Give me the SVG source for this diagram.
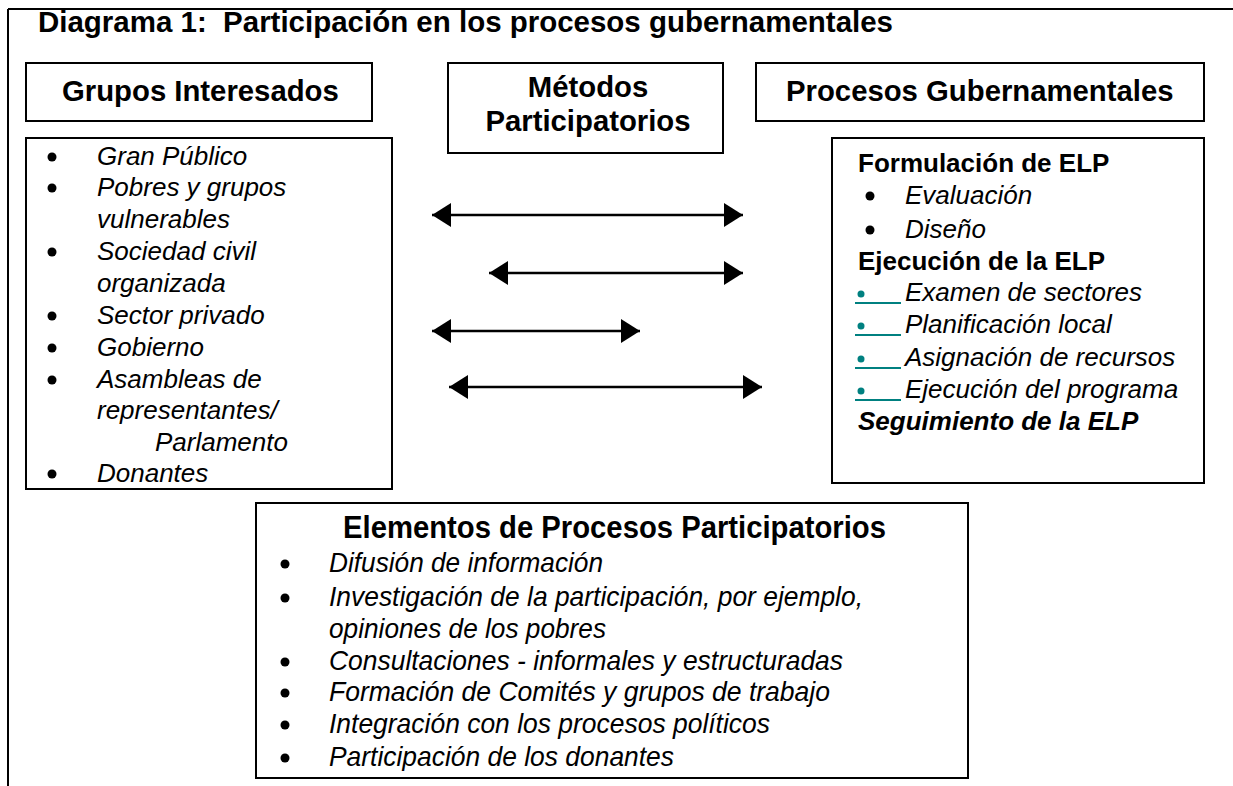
<svg xmlns="http://www.w3.org/2000/svg" width="1233" height="786" viewBox="0 0 1233 786">
<style>
.box{fill:#fff;stroke:#000;stroke-width:2}
.h{font-family:"Liberation Sans",Arial,sans-serif;font-weight:bold;font-size:29.3px;fill:#000}
.it{font-family:"Liberation Sans",Arial,sans-serif;font-style:italic;font-size:26px;fill:#000}
.b{font-family:"Liberation Sans",Arial,sans-serif;font-weight:bold;font-size:26px;fill:#000}
.bi{font-family:"Liberation Sans",Arial,sans-serif;font-weight:bold;font-style:italic;font-size:26px;fill:#000}
.nb{font-family:"Liberation Sans",Arial,sans-serif;font-weight:bold;font-size:32px;fill:#000}
.ni{font-family:"Liberation Sans",Arial,sans-serif;font-style:italic;font-size:28px;fill:#000}
.dot{fill:#000}
.tdot{fill:#008080}
.tline{stroke:#008080;stroke-width:2}
.conn{stroke:#000;stroke-width:2.5;fill:none;marker-start:url(#ah);marker-end:url(#ah)}
</style>
<defs>
<marker id="ah" markerUnits="userSpaceOnUse" markerWidth="20" markerHeight="24" refX="19" refY="12" orient="auto-start-reverse">
<path d="M0,0 L19,12 L0,24 Z" fill="#000"/>
</marker>
<clipPath id="elclip"><rect x="256" y="503" width="712" height="268"/></clipPath>
</defs>
<g id="frame">
<line x1="8" y1="9" x2="1233" y2="9" stroke="#000" stroke-width="2"/>
<line x1="8" y1="9" x2="8" y2="786" stroke="#000" stroke-width="2"/>
<text class="h" x="38" y="32" xml:space="preserve" textLength="855" lengthAdjust="spacingAndGlyphs">Diagrama 1:  Participación en los procesos gubernamentales</text>
</g>
<g id="grupos-header">
<rect class="box" x="26" y="63" width="346" height="58"/>
<text class="h" x="62" y="101">Grupos Interesados</text>
</g>
<g id="metodos-header">
<rect class="box" x="448" y="63" width="275" height="90"/>
<text class="h" x="588" y="97" text-anchor="middle">Métodos</text>
<text class="h" x="588" y="131" text-anchor="middle">Participatorios</text>
</g>
<g id="procesos-header">
<rect class="box" x="756" y="63" width="448" height="58"/>
<text class="h" x="786" y="101">Procesos Gubernamentales</text>
</g>
<g id="grupos-list">
<rect class="box" x="26" y="138" width="366" height="351"/>
<circle class="dot" cx="52" cy="157" r="4.5"/>
<circle class="dot" cx="52" cy="188" r="4.5"/>
<circle class="dot" cx="52" cy="252" r="4.5"/>
<circle class="dot" cx="52" cy="316" r="4.5"/>
<circle class="dot" cx="52" cy="348" r="4.5"/>
<circle class="dot" cx="52" cy="380" r="4.5"/>
<circle class="dot" cx="52" cy="474" r="4.5"/>
<text class="it" x="97" y="165">Gran Público</text>
<text class="it" x="97" y="196">Pobres y grupos</text>
<text class="it" x="97" y="228">vulnerables</text>
<text class="it" x="97" y="260">Sociedad civil</text>
<text class="it" x="97" y="292">organizada</text>
<text class="it" x="97" y="324">Sector privado</text>
<text class="it" x="97" y="356">Gobierno</text>
<text class="it" x="97" y="388">Asambleas de</text>
<text class="it" x="97" y="419">representantes/</text>
<text class="it" x="155" y="451">Parlamento</text>
<text class="it" x="97" y="482">Donantes</text>
</g>
<g id="procesos-list">
<rect class="box" x="832" y="138" width="372" height="345"/>
<text class="b" x="858" y="172">Formulación de ELP</text>
<circle class="dot" cx="870" cy="196" r="4.5"/>
<text class="it" x="905" y="204">Evaluación</text>
<circle class="dot" cx="870" cy="230" r="4.5"/>
<text class="it" x="905" y="238">Diseño</text>
<text class="b" x="858" y="270">Ejecución de la ELP</text>
<circle class="tdot" cx="861" cy="294" r="3.5"/>
<line class="tline" x1="855" y1="303" x2="901" y2="303"/>
<text class="it" x="905" y="301">Examen de sectores</text>
<circle class="tdot" cx="861" cy="326" r="3.5"/>
<line class="tline" x1="855" y1="335" x2="901" y2="335"/>
<text class="it" x="905" y="333">Planificación local</text>
<circle class="tdot" cx="861" cy="359" r="3.5"/>
<line class="tline" x1="855" y1="368" x2="901" y2="368"/>
<text class="it" x="905" y="366">Asignación de recursos</text>
<circle class="tdot" cx="861" cy="391" r="3.5"/>
<line class="tline" x1="855" y1="400" x2="901" y2="400"/>
<text class="it" x="905" y="398">Ejecución del programa</text>
<text class="bi" x="858" y="430">Seguimiento de la ELP</text>
</g>
<g id="connectors">
<line class="conn" x1="432" y1="215" x2="743" y2="215"/>
<line class="conn" x1="489" y1="273" x2="743" y2="273"/>
<line class="conn" x1="432" y1="331" x2="640" y2="331"/>
<line class="conn" x1="449" y1="387" x2="762" y2="387"/>
</g>
<g id="elementos">
<rect class="box" x="256" y="503" width="712" height="275"/>
<text class="nb" x="343" y="538" textLength="543" lengthAdjust="spacingAndGlyphs">Elementos de Procesos Participatorios</text>
<circle class="dot" cx="285" cy="564" r="4.5"/>
<circle class="dot" cx="285" cy="598" r="4.5"/>
<circle class="dot" cx="285" cy="662" r="4.5"/>
<circle class="dot" cx="285" cy="693" r="4.5"/>
<circle class="dot" cx="285" cy="725" r="4.5"/>
<circle class="dot" cx="285" cy="758" r="4.5"/>
<text class="ni" x="329" y="572" textLength="274" lengthAdjust="spacingAndGlyphs">Difusión de información</text>
<text class="ni" x="329" y="606" textLength="534" lengthAdjust="spacingAndGlyphs">Investigación de la participación, por ejemplo,</text>
<text class="ni" x="329" y="638" textLength="277" lengthAdjust="spacingAndGlyphs">opiniones de los pobres</text>
<text class="ni" x="329" y="670" textLength="514" lengthAdjust="spacingAndGlyphs">Consultaciones - informales y estructuradas</text>
<text class="ni" x="329" y="701" textLength="501" lengthAdjust="spacingAndGlyphs">Formación de Comités y grupos de trabajo</text>
<text class="ni" x="329" y="733" textLength="441" lengthAdjust="spacingAndGlyphs">Integración con los procesos políticos</text>
<text class="ni" x="329" y="766" textLength="345" lengthAdjust="spacingAndGlyphs" clip-path="url(#elclip)">Participación de los donantes</text>
</g>
</svg>
